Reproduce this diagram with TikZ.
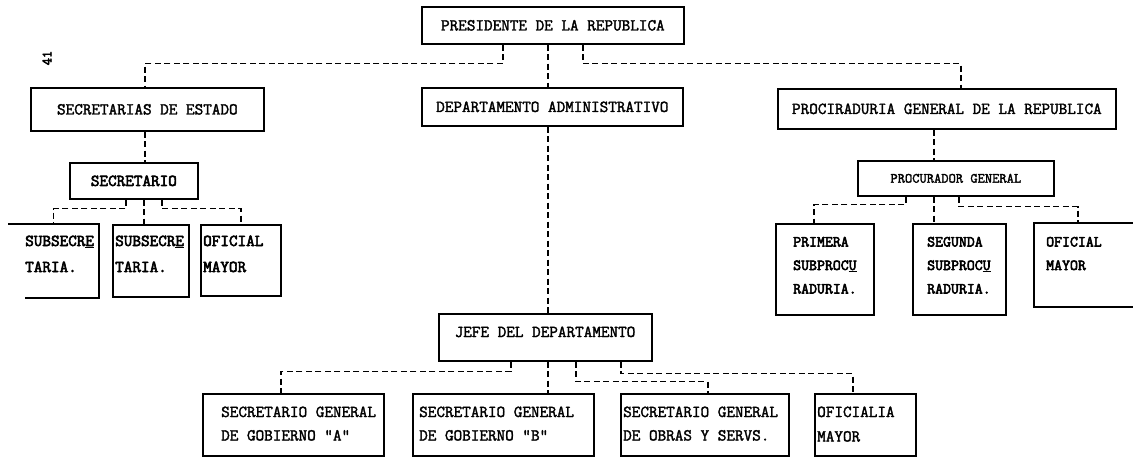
\documentclass[tikz,border=0pt]{standalone}
\usepackage{fontspec}
\newfontfamily\twfont[FakeBold=2]{Latin Modern Mono}
\newfontfamily\twbfont[FakeBold=3.5]{Latin Modern Mono}
\newcommand\orgM{\twfont\fontsize{16.7}{19}\selectfont}
\newcommand\orgL{\twbfont\fontsize{16.7}{19}\selectfont}
\newcommand\orgR{\twbfont\fontsize{15.4}{18}\selectfont}
\newcommand\orgP{\twfont\fontsize{14.1}{17}\selectfont}
\newcommand\orgN{\twbfont\fontsize{14}{16}\selectfont}
\begin{document}
\begin{tikzpicture}[x=1pt,y=-1pt,
  box/.style={draw, line width=1.7pt, inner sep=0pt, anchor=north west, font=\orgM},
  edge/.style={line width=1.7pt},
  conn/.style={line width=1.5pt, dash pattern=on 6pt off 3.5pt},
  lbl/.style={anchor=base west, inner sep=0pt, font=\orgM},
  lblL/.style={lbl, font=\orgL},
  lblR/.style={lbl, font=\orgR}]
\useasboundingbox (0,0) rectangle (1133,456);
\fill[white] (0,0) rectangle (1133,456);

\node[font=\orgN, rotate=90] (pg) at (47,58) {41};

% boxes
\node[box, minimum width=262pt, minimum height=37pt] (pres) at (421,6) {PRESIDENTE DE LA REPUBLICA};
\node[box, minimum width=233pt, minimum height=43pt] (sec) at (30,87) {SECRETARIAS DE ESTADO};
\node[box, minimum width=261pt, minimum height=38pt] (dep) at (421,87) {DEPARTAMENTO ADMINISTRATIVO};
\node[box, minimum width=338pt, minimum height=40pt] (proc) at (777,88) {PROCIRADURIA GENERAL DE LA REPUBLICA};
\node[box, font=\orgL, minimum width=128pt, minimum height=36pt] (secr) at (69,162) {SECRETARIO};
\node[box, draw=none, minimum width=89pt, minimum height=72pt] (sub1) at (8,224) {};
\draw[edge] (sub1.north west) -- (sub1.north east) -- (sub1.south east) -- ([xshift=17pt]sub1.south west);
\node[box, minimum width=76pt, minimum height=72pt] (sub2) at (112,224) {};
\node[box, minimum width=80pt, minimum height=71pt] (ofi1) at (200,224) {};
\node[box, font=\orgP, minimum width=196pt, minimum height=35pt] (pgen) at (857,160) {PROCURADOR GENERAL};
\node[box, minimum width=98pt, minimum height=91pt] (prim) at (775,223) {};
\node[box, minimum width=93pt, minimum height=91pt] (seg) at (912,223) {};
\node[box, draw=none, minimum width=99pt, minimum height=82pt] (ofi2) at (1034,223) {};
\draw[edge] (ofi2.north east) -- (ofi2.north west) -- (ofi2.south west) -- (ofi2.south east);
\node[box, minimum width=213pt, minimum height=47pt] (jefe) at (438,313) {};
\node[box, minimum width=181pt, minimum height=62pt] (sga) at (202,393) {};
\node[box, minimum width=181pt, minimum height=62pt] (sgb) at (412,393) {};
\node[box, minimum width=168pt, minimum height=62pt] (sgc) at (620,393) {};
\node[box, minimum width=101pt, minimum height=62pt] (ofd) at (814,393) {};

% texts
\node[lblL] (sub1a) at (25,246) {SUBSECR\underline{E}};
\node[lblL] (sub1b) at (25,272) {TARIA.};
\node[lblL] (sub2a) at (115,246) {SUBSECR\underline{E}};
\node[lblL] (sub2b) at (115,272) {TARIA.};
\node[lblL] (ofi1a) at (203,246) {OFICIAL};
\node[lblL] (ofi1b) at (203,272) {MAYOR};
\node[lblR] (prima) at (793,246.5) {PRIMERA};
\node[lblR] (primb) at (793,270) {SUBPROC\underline{U}};
\node[lblR] (primc) at (793,293.5) {RADURIA.};
\node[lblR] (sega) at (927,246.5) {SEGUNDA};
\node[lblR] (segb) at (927,270) {SUBPROC\underline{U}};
\node[lblR] (segc) at (927,293.5) {RADURIA.};
\node[lblR] (ofi2a) at (1046,246.5) {OFICIAL};
\node[lblR] (ofi2b) at (1046,270) {MAYOR};
\node[lbl, anchor=base] (jefet) at (545,337) {JEFE DEL DEPARTAMENTO};
\node[lbl] (sgaa) at (221,417) {SECRETARIO GENERAL};
\node[lbl] (sgab) at (221,440.5) {DE GOBIERNO "A"};
\node[lbl] (sgba) at (419,417) {SECRETARIO GENERAL};
\node[lbl] (sgbb) at (419,440.5) {DE GOBIERNO "B"};
\node[lbl] (sgca) at (623,417) {SECRETARIO GENERAL};
\node[lbl] (sgcb) at (623,440.5) {DE OBRAS Y SERVS.};
\node[lbl] (ofda) at (817,417) {OFICIALIA};
\node[lbl] (ofdb) at (817,441.5) {MAYOR};

% connectors
\draw[conn] ([xshift=-50pt]pres.south) -- ++(0,19) -| ([xshift=-2.5pt]sec.north);
\draw[conn] ([xshift=-5pt]pres.south) -- ([xshift=-5pt]pres.south |- dep.north);
\draw[conn] ([xshift=30pt]pres.south) -- ++(0,19) -| ([xshift=14pt]proc.north);
\draw[conn] ([xshift=-2.5pt]sec.south) -- ([xshift=-2.5pt]sec.south |- secr.north);
\draw[conn] ([xshift=-8pt]secr.south) -- ++(0,9) -| (sub1.north);
\draw[conn] ([xshift=10pt]secr.south) -- ([xshift=10pt]secr.south |- sub2.north);
\draw[conn] ([xshift=28pt]secr.south) -- ++(0,9) -| (ofi1.north);
\draw[conn] ([xshift=-13pt]proc.south) -- ([xshift=-13pt]proc.south |- pgen.north);
\draw[conn] ([xshift=-50pt]pgen.south) -- ++(0,8) -| ([xshift=-11pt]prim.north);
\draw[conn] ([xshift=-22pt]pgen.south) -- ([xshift=-22pt]pgen.south |- seg.north);
\draw[conn] ([xshift=3pt]pgen.south) -- ++(0,10) -| ([xshift=-6.5pt]ofi2.north);
\draw[conn] ([xshift=-4.5pt]dep.south) -- ([xshift=-4.5pt]dep.south |- jefe.north);
\draw[conn] ([xshift=-34.5pt]jefe.south) -- ++(0,10) -| ([xshift=-12.5pt]sga.north);
\draw[conn] ([xshift=2.5pt]jefe.south) -- ([xshift=2.5pt]jefe.south |- sgb.north);
\draw[conn] ([xshift=30.5pt]jefe.south) -- ++(0,20) -| ([xshift=3pt]sgc.north);
\draw[conn] ([xshift=75.5pt]jefe.south) -- ++(0,12) -| ([xshift=-12.5pt]ofd.north);
\end{tikzpicture}
\end{document}
